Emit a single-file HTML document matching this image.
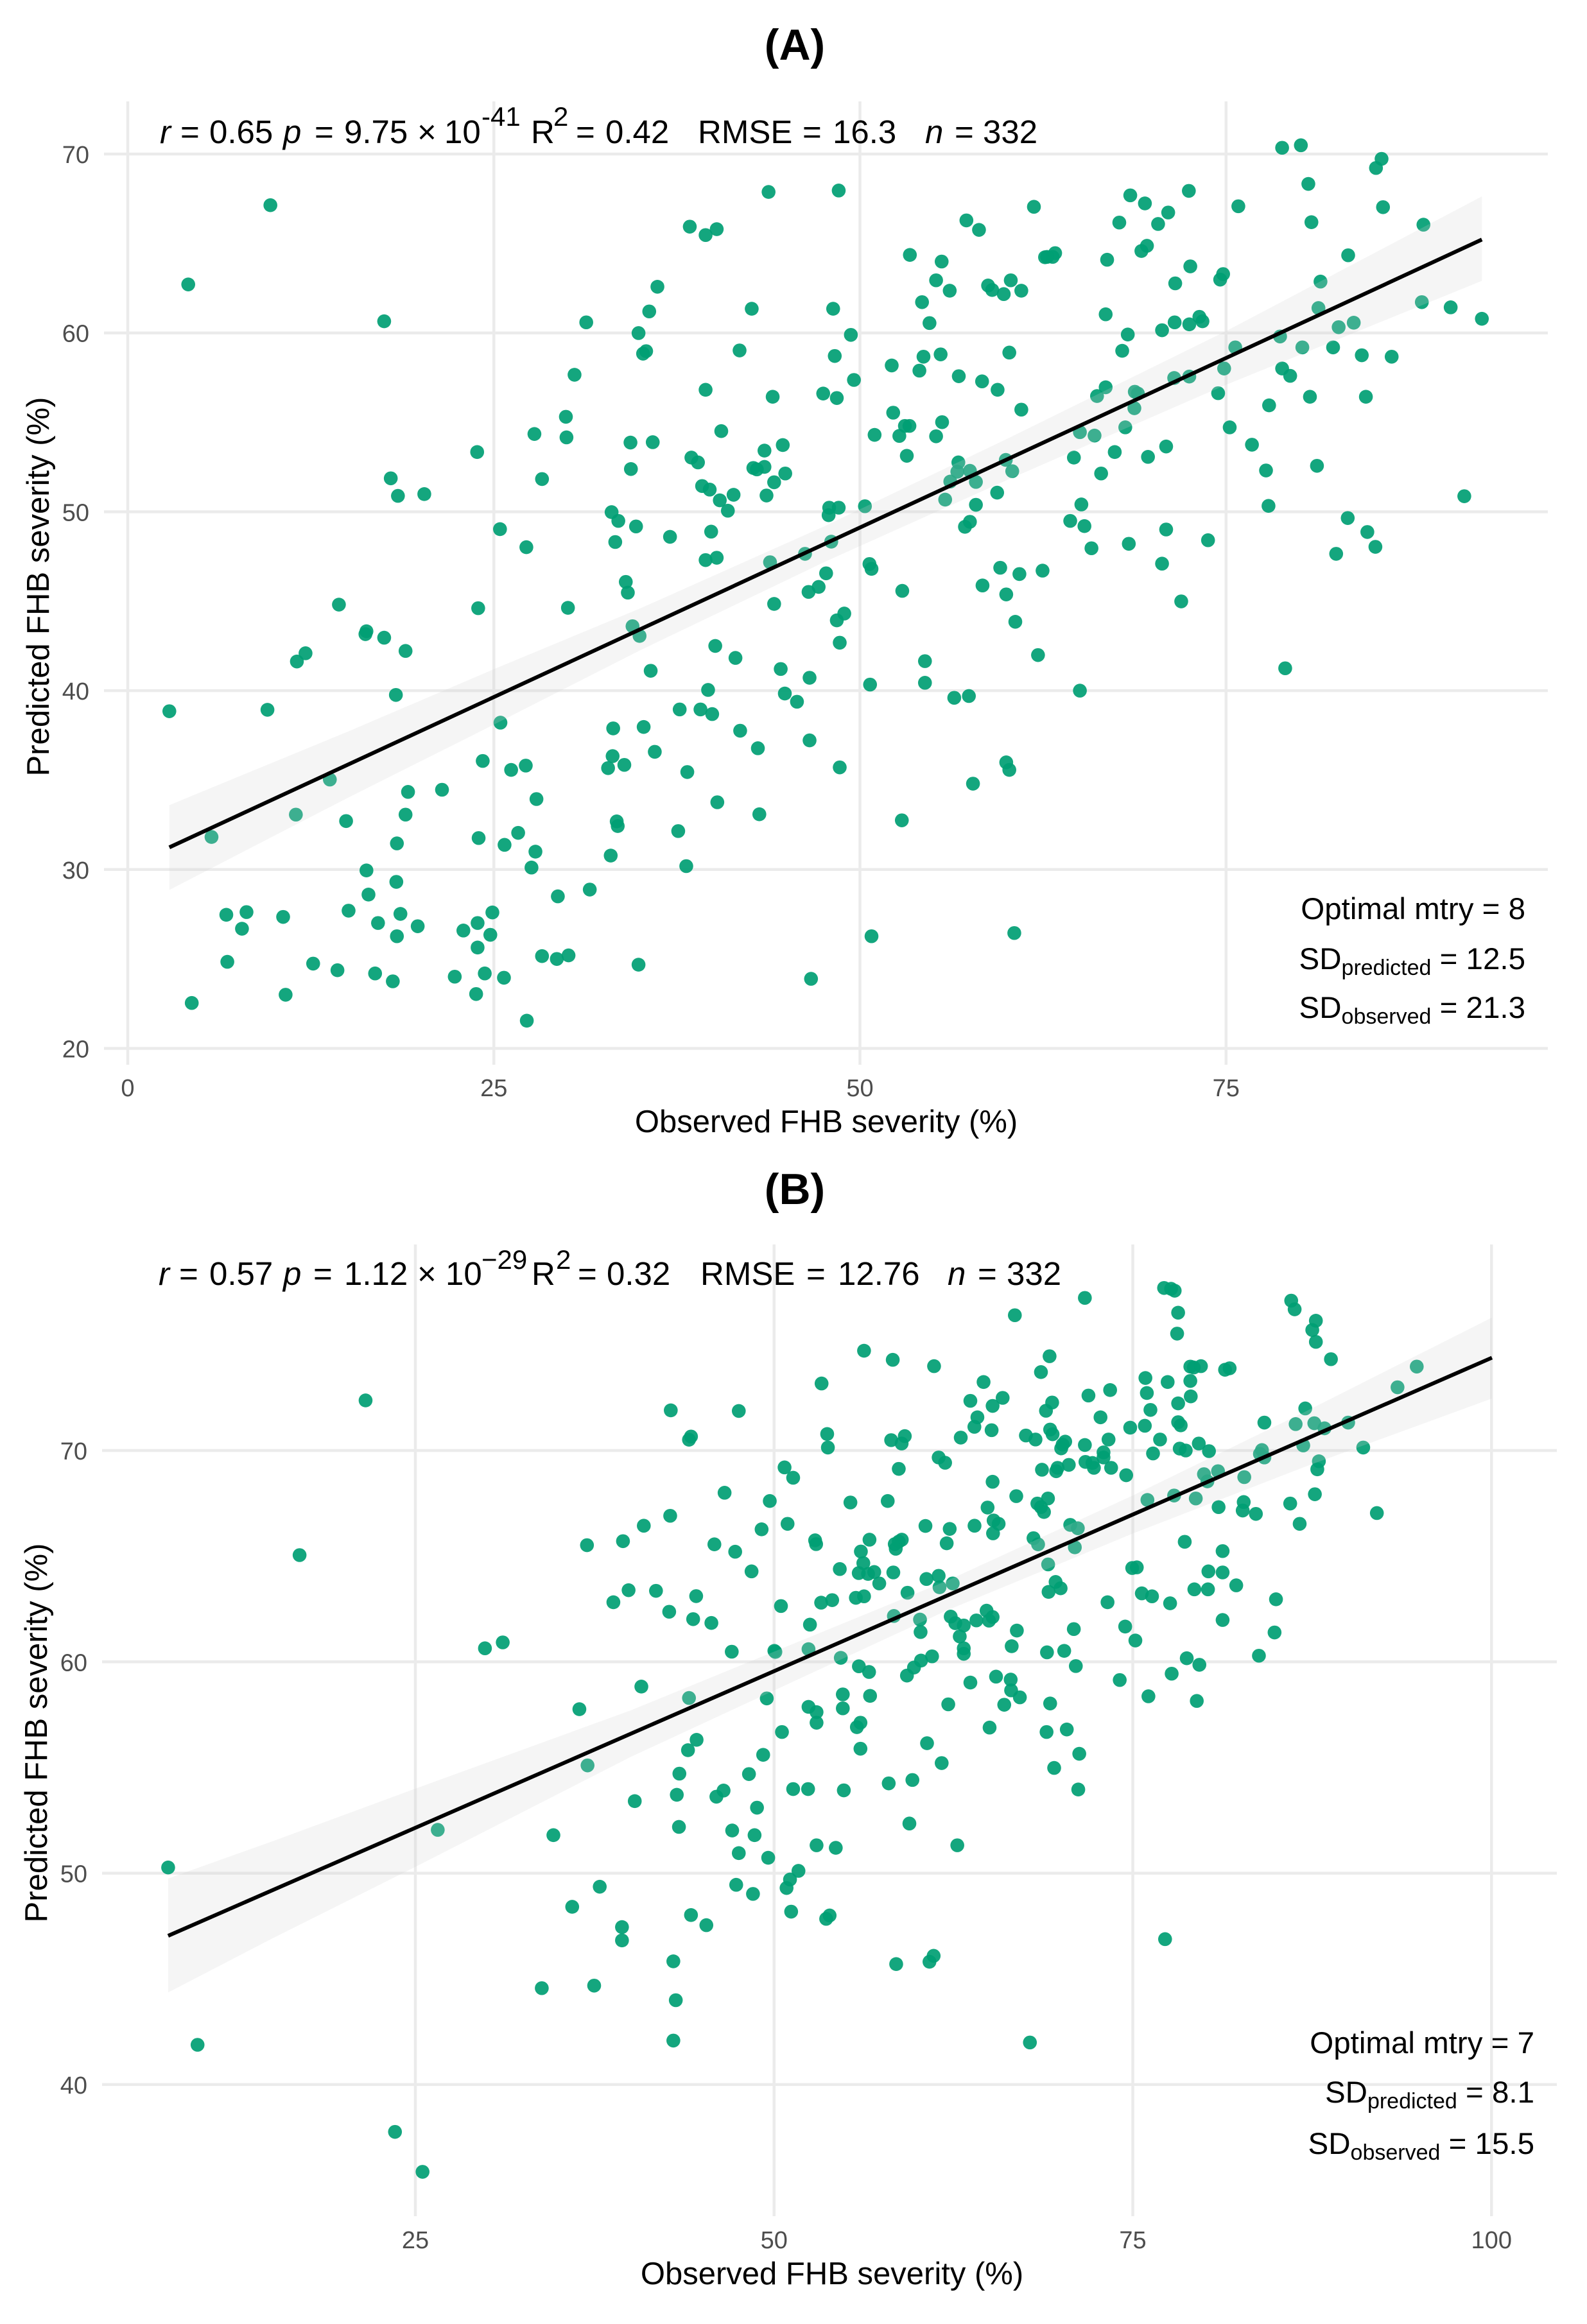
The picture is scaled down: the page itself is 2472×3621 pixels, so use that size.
<!DOCTYPE html>
<html lang="en">
<head>
<meta charset="utf-8">
<title>Observed vs predicted FHB severity</title>
<style>
html,body{margin:0;padding:0;background:#fff;}
svg{display:block;font-family:"Liberation Sans",Arial,sans-serif;}
.ann{font-size:51px;fill:#000;}
.side{font-size:47.5px;fill:#000;}
.sub{font-size:34px;}
.sup{font-size:42px;}
.ttl{font-size:68px;font-weight:bold;text-anchor:middle;fill:#000;}
.axt{font-size:49px;fill:#000;text-anchor:middle;}
.tick{font-size:38px;fill:#4d4d4d;}
i,.it{font-style:italic;}
</style>
</head>
<body>
<svg id="chart" xmlns="http://www.w3.org/2000/svg" width="2472" height="3621" viewBox="0 0 2472 3621">
<rect x="0" y="0" width="2472" height="3621" fill="#fff"/>
<g id="panelA"></g>
<g id="panelB"></g>

<text class="ttl" x="1238" y="93">(A)</text>
<text class="ttl" x="1238" y="1876">(B)</text>

<text class="axt" x="1287" y="1764">Observed FHB severity (%)</text>
<text class="axt" transform="translate(76 914) rotate(-90)">Predicted FHB severity (%)</text>
<text class="axt" x="1296" y="3559">Observed FHB severity (%)</text>
<text class="axt" transform="translate(73 2700) rotate(-90)">Predicted FHB severity (%)</text>

<text class="ann" y="223"><tspan class="it" x="249">r</tspan><tspan x="281">=</tspan><tspan x="326">0.65</tspan><tspan class="it" x="441">p</tspan><tspan x="490">=</tspan><tspan x="536">9.75</tspan><tspan x="650">×</tspan><tspan x="692">10</tspan><tspan class="sup" x="750" y="196">-41</tspan><tspan x="827" y="223">R</tspan><tspan class="sup" x="862" y="196">2</tspan><tspan x="897" y="223">=</tspan><tspan x="943">0.42</tspan><tspan x="1087">RMSE</tspan><tspan x="1250">=</tspan><tspan x="1297">16.3</tspan><tspan class="it" x="1441">n</tspan><tspan x="1487">=</tspan><tspan x="1531">332</tspan></text>

<text class="ann" y="2002"><tspan class="it" x="247">r</tspan><tspan x="279">=</tspan><tspan x="326">0.57</tspan><tspan class="it" x="441">p</tspan><tspan x="488">=</tspan><tspan x="536">1.12</tspan><tspan x="650">×</tspan><tspan x="694">10</tspan><tspan class="sup" x="750" y="1977">−29</tspan><tspan x="828" y="2002">R</tspan><tspan class="sup" x="866" y="1977">2</tspan><tspan x="900" y="2002">=</tspan><tspan x="945">0.32</tspan><tspan x="1091">RMSE</tspan><tspan x="1256">=</tspan><tspan x="1305">12.76</tspan><tspan class="it" x="1476">n</tspan><tspan x="1523">=</tspan><tspan x="1568">332</tspan></text>

<text class="side" x="2376" y="1432" text-anchor="end">Optimal mtry = 8</text>
<text class="side" x="2376" y="1510" text-anchor="end">SD<tspan class="sub" dy="9">predicted</tspan><tspan dy="-9"> = 12.5</tspan></text>
<text class="side" x="2376" y="1586" text-anchor="end">SD<tspan class="sub" dy="9">observed</tspan><tspan dy="-9"> = 21.3</tspan></text>

<text class="side" x="2390" y="3199" text-anchor="end">Optimal mtry = 7</text>
<text class="side" x="2390" y="3276" text-anchor="end">SD<tspan class="sub" dy="9">predicted</tspan><tspan dy="-9"> = 8.1</tspan></text>
<text class="side" x="2390" y="3356" text-anchor="end">SD<tspan class="sub" dy="9">observed</tspan><tspan dy="-9"> = 15.5</tspan></text>
</svg>

<script>
const xTicksA = [0, 25, 50, 75];
const yTicksA = [20, 30, 40, 50, 60, 70];
const xTicksB = [25, 50, 75, 100];
const yTicksB = [40, 50, 60, 70];

const fitXA = [2.84, 92.47];
const fitYA = [31.24, 65.22];
const ribbonXA = [2.84, 15, 25, 35, 47.6, 60, 75, 92.47];
const ribbonUpperA = [33.6, 37.7, 41.2, 44.6, 49.2, 54.06, 60.1, 67.63];
const ribbonLowerA = [28.86, 34.0, 38.1, 42.26, 47.2, 51.76, 57.1, 62.91];

const fitXB = [7.77, 100.03];
const fitYB = [47.04, 74.39];
const ribbonXB = [7.77, 15, 25, 40, 62, 75, 87, 100.03];
const ribbonUpperB = [49.75, 51.5, 54.0, 57.7, 63.82, 67.87, 71.83, 76.29];
const ribbonLowerB = [44.36, 46.9, 50.3, 55.5, 62.42, 66.07, 69.23, 72.46];

const scatterA = [
[9.74,67.14],[4.13,62.71],[17.51,60.65],[31.31,60.59],[36.17,62.58],[35.61,61.2],[34.88,59.99],[35.4,58.98],[35.19,58.84],[30.51,57.66],
[38.38,65.94],[39.46,65.47],[40.22,65.8],[43.76,67.88],[42.61,61.35],[41.78,59.02],[39.46,56.82],[44.04,56.43],[29.92,55.31],[27.77,54.35],
[29.96,54.16],[40.53,54.51],[34.33,53.87],[35.85,53.89],[23.86,53.34],[43.48,53.42],[44.73,53.73],[17.96,51.87],[18.45,50.89],[20.25,50.99],
[28.29,51.83],[34.36,52.39],[38.49,53.03],[38.94,52.76],[42.72,52.45],[42.96,52.37],[43.48,52.51],[44.9,52.14],[44.14,51.65],[39.22,51.44],
[39.74,51.24],[41.37,50.95],[43.62,50.91],[40.43,50.64],[40.98,50.06],[33.04,49.98],[33.5,49.49],[25.42,49.03],[34.71,49.18],[39.84,48.89],
[37.03,48.6],[27.22,48.02],[33.29,48.31],[39.46,47.3],[40.22,47.43],[43.86,47.18],
[48.55,67.96],[61.88,67.05],[57.27,66.29],[58.13,65.76],[53.41,64.36],[55.58,63.99],[55.2,62.94],[56.13,62.36],[54.24,61.72],[54.75,60.55],
[48.17,61.35],[49.38,59.89],[48.28,58.71],[49.59,57.37],[47.49,56.61],[48.42,56.36],[58.75,62.65],[59.03,62.4],[59.82,62.17],[60.3,62.94],
[61.02,62.36],[62.64,64.23],[63.16,64.25],[63.33,64.46],[62.78,64.25],[66.88,64.09],[67.71,66.17],[68.46,67.69],[69.46,67.24],[71.05,66.73],
[70.36,66.09],[72.46,67.94],[69.6,64.87],[69.22,64.58],[75.84,67.08],[78.83,70.35],[80.11,70.49],[85.62,69.73],[85.24,69.22],[80.62,68.33],
[80.83,66.19],[85.72,67.03],[88.48,66.05],[83.34,64.34],[72.56,63.72],[71.53,62.77],[74.8,63.29],[74.6,62.98],[81.45,62.87],[81.31,61.39],
[88.37,61.72],[90.34,61.43],[92.47,60.79],[83.72,60.57],[82.69,60.32],[78.69,59.8],[75.63,59.19],[80.21,59.19],[82.31,59.19],[84.27,58.75],
[86.31,58.67],[74.87,58.01],[78.83,58.01],[79.38,57.6],[74.46,56.63],[80.73,56.43],[84.55,56.43],[77.94,55.95],[75.25,54.72],[76.77,53.75],
[77.73,52.31],[81.21,52.57],[77.9,50.33],[91.27,50.87],[83.31,49.65],[84.65,48.87],[85.2,48.04],[82.52,47.65],
[66.78,61.04],[71.49,60.59],[70.63,60.15],[72.49,60.48],[73.18,60.9],[73.39,60.65],[68.29,59.91],[67.91,59.0],[60.2,58.9],[55.51,58.8],
[54.34,58.67],[52.17,58.18],[54.06,57.89],[56.75,57.58],[58.34,57.29],[59.4,56.82],[71.46,57.48],[72.49,57.56],[66.78,56.96],[66.19,56.47],
[68.77,56.71],[68.98,56.61],[68.74,55.79],[61.02,55.71],[52.27,55.54],[55.61,55.01],[53.07,54.8],[53.38,54.8],[51.0,54.3],[52.69,54.24],
[55.2,54.22],[53.2,53.13],[68.12,54.72],[65.02,54.45],[66.02,54.26],[67.4,53.34],[64.61,53.03],[70.91,53.65],[69.67,53.07],[66.47,52.14],
[56.72,52.76],[56.65,52.24],[57.51,52.29],[59.96,52.9],[60.4,52.27],[56.17,51.69],[57.92,51.67],[59.37,51.07],[55.82,50.68],[57.92,50.39],
[65.12,50.41],[50.34,50.31],[47.9,50.23],[48.55,50.23],[47.86,49.81],[64.36,49.49],[65.33,49.2],[57.51,49.44],[57.17,49.16],[70.91,49.01],
[68.36,48.21],[73.77,48.41],[65.81,47.96],[70.63,47.1],[48.04,48.33],[46.25,47.65],[50.65,47.08],[50.79,46.81],[59.58,46.87],[60.89,46.52],
[62.47,46.71],[47.69,46.56],
[34.01,46.08],[34.15,45.48],[14.42,44.81],[23.93,44.61],[30.06,44.63],[44.14,44.85],[34.47,43.6],[34.95,43.06],[16.3,43.32],[16.23,43.16],
[17.51,42.96],[18.97,42.22],[12.14,42.09],[11.55,41.63],[40.12,42.5],[41.5,41.83],[35.71,41.11],[44.59,41.21],[18.31,39.76],[39.63,40.04],
[44.87,39.84],[45.7,39.38],[2.84,38.85],[9.54,38.93],[37.69,38.95],[39.11,38.95],[39.91,38.69],[25.45,38.21],[35.23,37.97],[33.15,37.89],
[41.82,37.76],[43.03,36.78],[35.99,36.58],[33.11,36.34],[24.24,36.07],[27.18,35.81],[26.18,35.57],[32.8,35.67],[33.91,35.85],[38.21,35.45],
[13.8,35.03],[27.91,33.94],[21.46,34.46],[19.14,34.34],[40.26,33.76],[18.97,33.07],[11.48,33.07],[43.13,33.09],[14.91,32.71],[33.39,32.69],
[33.46,32.43],[5.72,31.82],[23.96,31.76],[26.66,32.05],[37.59,32.15],[18.38,31.46],[25.73,31.38],[27.84,31.0],[32.98,30.78],[27.57,30.11],
[38.14,30.19],[16.3,29.95],[18.34,29.31],[31.55,28.88],[29.37,28.5],[16.44,28.6],[15.08,27.7],[8.11,27.62],[6.73,27.47],[10.61,27.35],
[18.62,27.52],[24.9,27.6],[17.09,27.01],[23.89,27.01],[19.8,26.83],[7.8,26.69],[22.92,26.59],[24.76,26.35],[18.38,26.27],[23.89,25.64],
[28.29,25.16],[29.3,25.0],[30.1,25.2],[6.8,24.84],[12.66,24.74],[34.88,24.68],[14.32,24.37],[16.89,24.19],[24.38,24.19],[22.33,24.01],
[25.69,23.95],[18.1,23.75],[10.78,23.0],[23.79,23.04],[4.37,22.54],[27.25,21.55],
[46.49,45.52],[47.18,45.8],[52.89,45.58],[58.37,45.88],[59.99,45.38],[71.94,44.99],[48.93,44.31],[48.42,43.93],[60.61,43.85],[48.62,42.68],
[62.16,41.99],[54.44,41.65],[79.04,41.25],[46.56,40.72],[50.69,40.34],[54.44,40.44],[65.02,40.0],[56.44,39.6],[57.44,39.7],[46.56,37.22],
[48.62,35.71],[59.99,35.99],[60.2,35.57],[57.72,34.8],[52.86,32.75],[50.79,26.27],[60.54,26.45],[46.66,23.89]
];

const scatterB = [
[21.53,72.37],[16.93,65.05],[42.8,71.9],[47.54,71.87],[44.21,70.66],[44.07,70.51],[50.73,69.2],[51.33,68.71],[46.55,68.0],[49.7,67.61],
[42.76,66.91],[40.92,66.44],[50.94,66.53],[49.13,66.27],[39.47,65.71],[36.96,65.52],[45.84,65.56],[47.29,65.21],[48.43,64.28],[39.86,63.39],
[41.77,63.36],[44.57,63.11],[38.8,62.82],[50.48,62.64],[42.69,62.37],[44.36,62.02],[45.63,61.84],[47.05,60.48],[50.02,60.52],[50.09,60.47],
[29.85,60.64],[31.09,60.92],[40.75,58.83],[44.07,58.29],[49.49,58.27],[36.43,57.76],[50.55,56.68],
[71.66,77.22],[77.18,77.69],[77.67,77.65],[77.92,77.56],[78.16,76.52],[78.09,75.53],[66.78,76.4],[86.04,77.09],[86.28,76.68],[87.76,76.14],
[87.51,75.7],[87.76,75.14],[88.81,74.32],[56.27,74.72],[58.27,74.29],[61.15,73.99],[69.2,74.46],[68.6,73.71],[53.31,73.17],[64.6,73.24],
[79.01,73.97],[79.25,73.93],[79.75,73.99],[81.43,73.82],[81.75,73.89],[75.88,73.43],[77.43,73.24],[79.01,73.29],[75.98,72.72],[79.04,72.56],
[73.42,72.86],[71.91,72.6],[63.68,72.35],[65.93,72.49],[65.23,72.11],[69.38,72.27],[68.95,71.88],[78.16,72.23],[76.23,71.92],[87.02,71.99],
[94.79,73.97],[93.45,72.99],[64.17,71.57],[63.96,71.12],[65.16,70.96],[72.75,71.57],[74.82,71.08],[75.84,71.17],[78.16,71.34],[78.34,71.19],
[84.17,71.32],[86.35,71.25],[87.65,71.29],[88.36,71.05],[90.01,71.32],[69.24,70.99],[69.41,70.77],[63.01,70.61],[67.55,70.71],[68.22,70.52],
[53.7,70.78],[53.75,70.14],[58.16,70.49],[59.11,70.68],[58.89,70.33],[70.11,70.28],[70.29,70.42],[70.01,70.1],[71.66,70.26],[73.31,70.52],
[76.9,70.52],[79.6,70.33],[78.27,70.09],[78.69,70.0],[80.31,69.97],[86.88,70.24],[91.06,70.14],[76.41,69.86],[84.0,70.02],[83.86,69.84],
[84.17,69.67],[61.47,69.67],[61.92,69.42],[58.69,69.13],[72.96,69.91],[72.96,69.67],[71.7,69.46],[72.19,69.41],[72.29,69.18],[73.49,69.18],
[70.54,69.32],[69.76,69.18],[69.66,69.02],[68.67,69.09],[74.54,68.83],[79.96,68.88],[80.94,69.02],[80.2,68.54],[82.77,68.74],[87.97,69.49],
[87.86,69.11],[65.23,68.52],[66.88,67.84],[55.32,67.54],[57.92,67.61],[69.09,67.73],[68.35,67.49],[68.6,67.32],[68.81,67.09],[76.02,67.66],
[77.88,67.87],[79.39,67.73],[87.69,67.93],[80.98,67.32],[82.73,67.56],[82.66,67.16],[83.58,67.0],[85.97,67.49],[92.01,67.04],[64.88,67.3],
[86.63,66.53],[65.3,66.69],[65.65,66.53],[63.97,66.44],[65.26,66.08],[60.55,66.43],[62.24,66.29],[62.03,65.61],[70.64,66.48],[71.17,66.32],
[52.86,65.75],[52.93,65.57],[56.65,65.78],[58.9,65.78],[58.69,65.69],[58.41,65.57],[58.48,65.35],[68.08,65.85],[68.4,65.56],[70.96,65.42],
[78.62,65.68],[81.26,65.24],[56.05,65.22],[56.22,64.67],[55.9,64.2],[54.58,64.39],[56.55,64.16],[56.98,64.25],[58.31,64.23],[57.33,63.71],
[69.1,64.61],[74.96,64.44],[75.28,64.47],[60.62,63.92],[61.47,64.07],[61.53,63.53],[62.45,63.71],[59.3,63.27],[69.62,63.78],[69.97,63.48],
[69.13,63.31],[75.63,63.24],[76.34,63.1],[80.27,64.28],[81.26,64.23],[82.21,63.62],[79.29,63.43],[80.24,63.43],[84.98,62.96],[77.6,62.77],
[73.24,62.82],[55.7,63.03],[56.27,63.1],[53.28,62.8],[54.05,62.92],[58.35,62.17],[60.17,62.0],[60.21,61.41],[62.31,62.14],[62.63,61.83],
[63.22,61.72],[64.1,61.96],[64.81,62.42],[65.23,62.12],[64.98,61.95],[62.94,61.2],[66.92,61.48],[70.89,61.55],[74.47,61.67],[75.18,61.01],
[81.26,61.98],[84.88,61.39],[52.5,61.76],[66.56,60.74],[63.22,60.64],[63.22,60.38],[52.4,60.6],[54.65,60.19],[61.01,60.26],[60.24,60.06],
[69.02,60.45],[70.22,60.52],[55.91,59.79],[56.62,59.52],[71.03,59.8],[78.76,60.17],[79.64,59.86],[83.79,60.29],[77.71,59.44],[59.75,59.73],
[59.26,59.35],[65.47,59.3],[66.49,59.16],[63.68,59.02],[74.09,59.14],[66.52,58.65],[67.13,58.32],[54.79,58.46],[56.69,58.39],[76.09,58.37],
[79.46,58.15],[62.14,57.99],[66.04,57.97],[69.24,58.03],[52.4,57.87],[54.79,57.8],[52.96,57.62],[52.96,57.12],[56.02,57.12],[55.77,56.91],
[65.02,56.89],[68.99,56.68],[70.4,56.8],
[44.6,56.31],[44.0,55.82],[49.24,55.6],[37.0,55.1],[43.4,54.71],[48.25,54.69],[51.33,53.98],[43.22,53.71],[46.48,53.91],[45.98,53.62],
[40.29,53.41],[48.81,53.1],[43.37,52.19],[47.08,52.02],[48.64,51.8],[34.62,51.8],[26.56,52.05],[47.54,50.95],[49.59,50.73],[7.77,50.27],
[51.7,50.11],[51.11,49.7],[50.87,49.3],[37.85,49.36],[47.36,49.45],[48.53,49.02],[35.93,48.41],[51.19,48.18],[44.21,48.02],[45.28,47.54],
[39.4,47.45],[39.4,46.82],[42.98,45.83],[33.81,44.56],[37.46,44.68],[43.15,43.99],[42.98,42.08],[9.82,41.88],[23.58,37.76],[25.5,35.87],
[56.02,55.89],[60.66,56.15],[71.27,55.65],[61.68,55.21],[69.52,54.98],[57.99,54.25],[59.64,54.41],[52.37,53.98],[54.86,53.92],[71.2,53.96],
[59.43,52.35],[52.96,51.32],[54.3,51.2],[62.77,51.32],[53.87,48.0],[53.63,47.84],[58.51,45.7],[61.12,46.09],[60.83,45.81],[77.25,46.88],[67.83,41.99]
];

const SVG_NS = 'http://www.w3.org/2000/svg';

function make(tag, parent, attrs) {
  const el = document.createElementNS(SVG_NS, tag);
  for (const k in attrs) el.setAttribute(k, attrs[k]);
  parent.appendChild(el);
  return el;
}

function drawPanel(cfg) {
  const g = document.getElementById(cfg.id);
  const sx = v => cfg.x0 + (v - cfg.xBase) * cfg.xUnit;
  const sy = v => cfg.y0 + (cfg.yBase - v) * cfg.yUnit;

  cfg.yTicks.forEach(t => {
    const ln = make('line', g, {x1: cfg.left, x2: cfg.right, y1: sy(t), y2: sy(t), stroke: '#ebebeb', 'stroke-width': 4.5});
    
    
    const tx = make('text', g, {x: cfg.yLabelX, y: sy(t) + 14, 'text-anchor': 'end', class: 'tick'});
    tx.textContent = String(t);
    
    
  });
  cfg.xTicks.forEach(t => {
    const ln = make('line', g, {x1: sx(t), x2: sx(t), y1: cfg.top, y2: cfg.bottom, stroke: '#ebebeb', 'stroke-width': 4.5});
    
    
    const tx = make('text', g, {x: sx(t), y: cfg.xLabelY, 'text-anchor': 'middle', class: 'tick'});
    tx.textContent = String(t);
    
    
  });

  cfg.points.forEach(p => {
    const c = make('circle', g, {cx: sx(p[0]), cy: sy(p[1]), r: 10.8, fill: '#009e73', 'fill-opacity': 0.92});
    
    
  });

  const upperPts = cfg.ribbonX.map((x, i) => sx(x) + ',' + sy(cfg.ribbonUpper[i]));
  const lowerPts = cfg.ribbonX.map((x, i) => sx(x) + ',' + sy(cfg.ribbonLower[i])).reverse();
  const rib = make('polygon', g, {points: upperPts.concat(lowerPts).join(' '), fill: '#d1d1d1', 'fill-opacity': 0.22});
  
  

  const fit = make('line', g, {x1: sx(cfg.fitX[0]), y1: sy(cfg.fitY[0]), x2: sx(cfg.fitX[1]), y2: sy(cfg.fitY[1]), stroke: '#000', 'stroke-width': 6});
  
  
}

drawPanel({
  id: 'panelA', x0: 199, xBase: 0, xUnit: 22.81, y0: 240, yBase: 70, yUnit: 27.87,
  left: 162, right: 2411, top: 158, bottom: 1659, yLabelX: 139, xLabelY: 1708,
  xTicks: xTicksA, yTicks: yTicksA, points: scatterA,
  fitX: fitXA, fitY: fitYA, ribbonX: ribbonXA, ribbonUpper: ribbonUpperA, ribbonLower: ribbonLowerA
});
drawPanel({
  id: 'panelB', x0: 647, xBase: 25, xUnit: 22.35, y0: 2260, yBase: 70, yUnit: 32.93,
  left: 159, right: 2425, top: 1939, bottom: 3453, yLabelX: 136, xLabelY: 3503,
  xTicks: xTicksB, yTicks: yTicksB, points: scatterB,
  fitX: fitXB, fitY: fitYB, ribbonX: ribbonXB, ribbonUpper: ribbonUpperB, ribbonLower: ribbonLowerB
});
</script>
</body>
</html>
